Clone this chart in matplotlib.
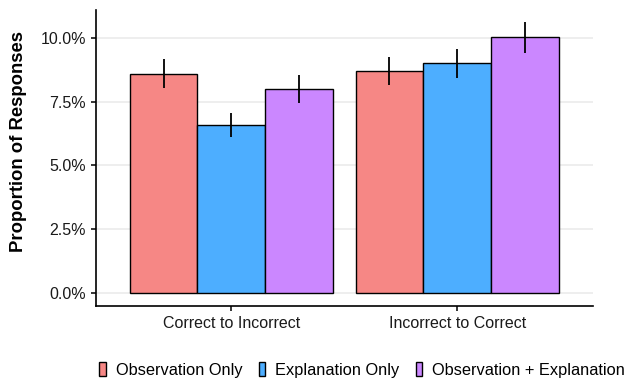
import matplotlib
matplotlib.use("Agg")
import matplotlib.pyplot as plt
import numpy as np
from matplotlib.ticker import FuncFormatter
from matplotlib.patches import Patch

plt.rcParams['font.family'] = ['Liberation Sans', 'DejaVu Sans']

categories = ["Correct to Incorrect", "Incorrect to Correct"]
conditions = ["Observation Only", "Explanation Only", "Observation + Explanation"]
values = {
    "Observation Only": [8.6, 8.72],
    "Explanation Only": [6.6, 9.03],
    "Observation + Explanation": [8.0, 10.02],
}
err_low = {
    "Observation Only": [8.04, 8.16],
    "Explanation Only": [6.12, 8.43],
    "Observation + Explanation": [7.45, 9.41],
}
err_high = {
    "Observation Only": [9.18, 9.25],
    "Explanation Only": [7.06, 9.57],
    "Observation + Explanation": [8.55, 10.63],
}
colors = ["#F68785", "#4DAEFF", "#CB87FF"]
yticks = [0.0, 2.5, 5.0, 7.5, 10.0]

fig = plt.figure(figsize=(6.3, 3.81), dpi=100)
ax = fig.add_axes([0.152, 0.197, 0.789, 0.777])

x = np.arange(1, len(categories) + 1)
w = 0.3
for i, cond in enumerate(conditions):
    pos = x + (i - 1) * w
    v = np.array(values[cond])
    ax.bar(pos, v, width=w, color=colors[i], edgecolor="black", linewidth=1.0, zorder=2)
    lo = v - np.array(err_low[cond])
    hi = np.array(err_high[cond]) - v
    ax.errorbar(pos, v, yerr=[lo, hi], fmt="none", ecolor="black", elinewidth=1.3, capsize=0, zorder=3)

ax.set_xlim(0.4, 2.6)
ax.set_ylim(-0.51, 11.1)
ax.set_yticks(yticks)
ax.yaxis.set_major_formatter(FuncFormatter(lambda v, p: f"{v:.1f}%"))
ax.set_xticks(x)
ax.set_xticklabels(categories)
ax.grid(axis="y", color="#EBEBEB", linewidth=1.2, zorder=0)
ax.set_axisbelow(True)
for s in ["top", "right"]:
    ax.spines[s].set_visible(False)
for s in ["left", "bottom"]:
    ax.spines[s].set_linewidth(1.2)
ax.tick_params(axis="both", labelsize=11.5, colors="black", length=3.5, width=1.1, labelcolor="#1A1A1A")
ax.set_ylabel("Proportion of Responses", fontsize=13.3, fontweight="bold")
lx, ly = ax.transAxes.inverted().transform(fig.transFigure.transform((27 / 630, 1 - 142 / 381)))
ax.yaxis.set_label_coords(lx, ly)

handles = [Patch(facecolor=c, edgecolor="black", linewidth=1.0) for c in colors]
fig.legend(handles, conditions, loc="center", bbox_to_anchor=(0.575, 0.03), ncol=3, frameon=False,
           fontsize=11.8, handlelength=0.4, handleheight=1.0, handletextpad=0.6, columnspacing=1.0)

fig.savefig("out.png", dpi=100)
